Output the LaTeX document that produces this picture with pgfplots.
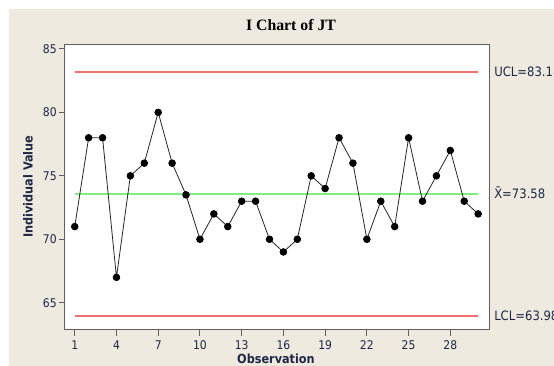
\documentclass[border=0pt]{standalone}
\usepackage{fontspec}
\setmainfont{DejaVu Sans Condensed}
\newfontfamily\titlefont{Liberation Serif}
\usepackage{pgfplots}
\usepackage{pgfplotstable}
\pgfplotsset{compat=1.18}
\definecolor{bg}{RGB}{238,234,224}
\definecolor{ucl}{RGB}{240,112,112}
\definecolor{cl}{RGB}{128,238,128}
\definecolor{txt}{RGB}{30,40,70}
\definecolor{frame}{RGB}{95,95,95}

\pgfplotstableread{
obs val
1 71
2 78
3 78
4 67
5 75
6 76
7 80
8 76
9 73.5
10 70
11 72
12 71
13 73
14 73
15 70
16 69
17 70
18 75
19 74
20 78
21 76
22 70
23 73
24 71
25 78
26 73
27 75
28 77
29 73
30 72
}\jt

\begin{document}
\begin{tikzpicture}
\useasboundingbox (0,0) rectangle (415.5pt,274.5pt);
\fill[white] (0,0) rectangle (415.5pt,274.5pt);
\fill[bg] (6.75pt,0) rectangle (415.5pt,267.75pt);
\begin{axis}[
  at={(48.75pt,27pt)}, anchor=south west,
  scale only axis, width=318pt, height=214.3pt,
  xmin=0.30, xmax=30.78, ymin=62.85, ymax=85.37,
  clip=false,
  axis background/.style={fill=white},
  axis line style={frame, line width=0.75pt},
  xtick={1,4,...,28}, ytick={65,70,...,85},
  tick align=outside, xtick pos=left, ytick pos=left,
  major tick length=4.5pt,
  tick style={frame, line width=0.75pt},
  tick label style={font=\fontsize{9}{10}\selectfont, text=txt},
  yticklabel style={inner sep=1.5pt},
  /pgf/number format/assume math mode=true,
  every axis title shift=0pt,
  title={I Chart of JT},
  title style={font=\titlefont\bfseries\fontsize{11.85}{14}\selectfont,
    at={(axis description cs:0.533,1.0476)}, anchor=base, inner sep=0pt},
  xlabel={Observation},
  xlabel style={font=\bfseries\fontsize{9.4}{11}\selectfont, text=txt,
    at={(axis description cs:0.4976,-0.118)}, anchor=base, inner sep=0pt},
  ylabel={Individual Value},
  ylabel style={font=\bfseries\fontsize{9.4}{11}\selectfont, text=txt,
    at={(axis description cs:-0.0873,0.502)}, anchor=center, inner sep=0pt},
]
\addplot[ucl, line width=1.5pt, no marks] coordinates {(1,83.18) (30,83.18)};
\addplot[ucl, line width=1.5pt, no marks] coordinates {(1,63.98) (30,63.98)};
\addplot[cl, line width=1.5pt, no marks] coordinates {(1,73.58) (30,73.58)};
\addplot[black!85, line width=0.6pt, mark=*, mark size=2.5pt,
  mark options={fill=black, draw=black}] table[x=obs, y=val] {\jt};
\node[anchor=base west, inner sep=0pt, xshift=3.75pt, yshift=-3.5pt,
  font=\fontsize{9.7}{11}\selectfont, text=txt] at (axis cs:30.78,83.18) {UCL=83.18};
\node[anchor=base west, inner sep=0pt, xshift=3.75pt, yshift=-3.5pt,
  font=\fontsize{9.7}{11}\selectfont, text=txt] at (axis cs:30.78,73.58) {\={X}=73.58};
\node[anchor=base west, inner sep=0pt, xshift=3.75pt, yshift=-3.5pt,
  font=\fontsize{9.7}{11}\selectfont, text=txt] at (axis cs:30.78,63.98) {LCL=63.98};
\end{axis}
\end{tikzpicture}
\end{document}
